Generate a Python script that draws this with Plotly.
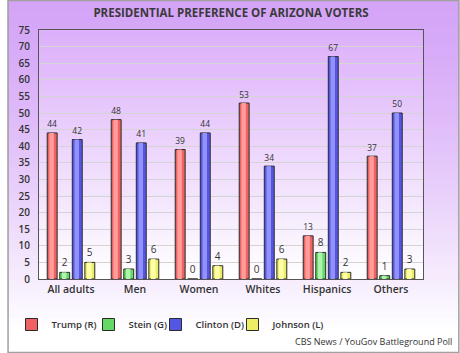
import plotly.graph_objects as go

# ---------------- data ----------------
categories = ["All adults", "Men", "Women", "Whites", "Hispanics", "Others"]
trump = [44, 48, 39, 53, 13, 37]
stein = [2, 3, 0, 0, 8, 1]
clinton = [42, 41, 44, 34, 67, 50]
johnson = [5, 6, 4, 6, 2, 3]
series_names = ["Trump (R)", "Stein (G)", "Clinton (D)", "Johnson (L)"]
y_ticks = list(range(0, 80, 5))

title_text = "PRESIDENTIAL PREFERENCE OF ARIZONA VOTERS"
source_text = "CBS News / YouGov Battleground Poll"

# ---------------- style ----------------
W, H = 460, 353
ML, MR, MT, MB = 32, 37, 30, 74
PW, PH = W - ML - MR, H - MT - MB
FONT = "Open Sans"
TXT = "#333333"

base_cols = ["#ee6262", "#66d866", "#5656e4", "#eeee66"]
hi_cols = ["#ff9c9c", "#adf5ad", "#9292ff", "#ffffac"]
legend_widths = [32, 22, 32, 70]
series = [trump, stein, clinton, johnson]

BW = 0.155      # bar width in category units
PITCH = 0.196   # bar pitch in category units

fig = go.Figure()
x_idx = list(range(len(categories)))

for i, (name, vals) in enumerate(zip(series_names, series)):
    offset = (i - 1.5) * PITCH - BW / 2
    fig.add_trace(go.Bar(
        x=x_idx, y=vals, name=name, width=BW, offset=offset,
        marker=dict(color=base_cols[i], line=dict(color="#2a2a2a", width=1)),
        text=[str(v) for v in vals], textposition="outside",
        textfont=dict(family=FONT, size=10, color=TXT),
        cliponaxis=False, legendwidth=legend_widths[i],
    ))
    # highlight stripe (gradient look)
    fig.add_trace(go.Bar(
        x=x_idx, y=vals, width=BW * 0.45, offset=offset + BW * 0.22,
        marker=dict(color=hi_cols[i], line=dict(width=0)),
        showlegend=False, hoverinfo="skip",
    ))

# ---------------- background gradients (shapes) ----------------
def px_to_paper_x(px):
    return (px - ML) / PW

def px_to_paper_y(py):
    return (H - MB - py) / PH

def lerp(c1, c2, t):
    return "rgb(%d,%d,%d)" % tuple(round(a + (b - a) * t) for a, b in zip(c1, c2))

shapes = []
# outer background
top_outer = (212, 164, 247)
end_outer_px = 335
n = 60
for k in range(n):
    y0 = end_outer_px * k / n
    y1 = end_outer_px * (k + 1) / n + 0.8
    t = (k / (n - 1)) ** 1.3
    shapes.append(dict(type="rect", xref="paper", yref="paper", layer="below",
                       x0=px_to_paper_x(0), x1=px_to_paper_x(W),
                       y0=px_to_paper_y(y1), y1=px_to_paper_y(y0),
                       fillcolor=lerp(top_outer, (255, 255, 255), t),
                       line=dict(width=0)))
# plot area
top_plot = (220, 176, 250)
n = 60
for k in range(n):
    y0 = MT + PH * k / n
    y1 = MT + PH * (k + 1) / n + 0.8
    y1 = min(y1, MT + PH)
    shapes.append(dict(type="rect", xref="paper", yref="paper", layer="below",
                       x0=0, x1=1,
                       y0=px_to_paper_y(y1), y1=px_to_paper_y(y0),
                       fillcolor=lerp(top_plot, (255, 255, 255), k / (n - 1)),
                       line=dict(width=0)))
# outer border
shapes.append(dict(type="rect", xref="paper", yref="paper", layer="above",
                   x0=px_to_paper_x(0.5), x1=px_to_paper_x(W - 0.5),
                   y0=px_to_paper_y(H - 0.5), y1=px_to_paper_y(0.5),
                   line=dict(color="#a0a0a0", width=1.5)))

fig.update_layout(
    width=W, height=H,
    margin=dict(l=ML, r=MR, t=MT, b=MB),
    paper_bgcolor="white",
    plot_bgcolor="rgba(0,0,0,0)",
    barmode="overlay",
    shapes=shapes,
    title=dict(text=title_text, x=0.5, xref="paper", xanchor="center",
               y=1 - 13 / H, yref="container", yanchor="middle",
               font=dict(family=FONT, size=11.5, color="#3a3a3a", weight=700)),
    font=dict(family=FONT, color=TXT),
    xaxis=dict(tickmode="array", tickvals=x_idx, ticktext=categories,
               range=[-0.5, len(categories) - 0.5],
               showgrid=False, zeroline=False,
               showline=True, mirror=True, linecolor="#555555", linewidth=1,
               ticks="", tickfont=dict(family=FONT, size=10.5, color=TXT, weight=600)),
    yaxis=dict(range=[0, 75], tickvals=y_ticks, showgrid=True, gridcolor="#d4d4d4",
               gridwidth=1, zeroline=False,
               showline=True, mirror=True, linecolor="#555555", linewidth=1,
               ticks="", ticklabelstandoff=6,
               tickfont=dict(family=FONT, size=10, color=TXT, weight=600)),
    legend=dict(orientation="h", x=px_to_paper_x(4), xanchor="left",
                y=px_to_paper_y(310), yanchor="top",
                font=dict(family=FONT, size=9.5, color=TXT, weight=600),
                bgcolor="rgba(0,0,0,0)", itemwidth=30, traceorder="normal"),
    annotations=[dict(text=source_text, xref="paper", yref="paper",
                      x=px_to_paper_x(455), y=px_to_paper_y(341),
                      xanchor="right", yanchor="middle", showarrow=False,
                      font=dict(family=FONT, size=9, color=TXT))],
    showlegend=True,
)

fig.write_html("out.html")
